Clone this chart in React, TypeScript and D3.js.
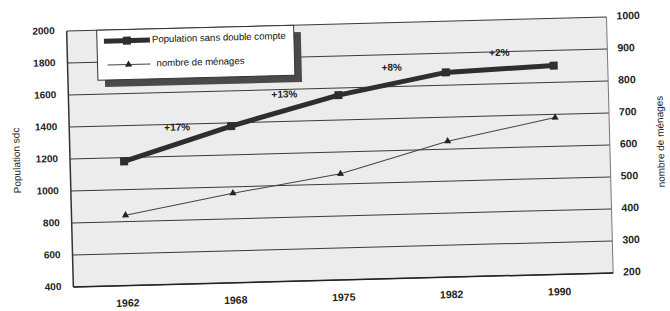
import * as d3 from "d3";

const years = ["1962", "1968", "1975", "1982", "1990"];
const population = [1177, 1380, 1556, 1680, 1705];
const menages = [420, 480, 532, 625, 690];
const growth = ["+17%", "+13%", "+8%", "+2%"];
const leftTicks = [400, 600, 800, 1000, 1200, 1400, 1600, 1800, 2000];
const rightTicks = [200, 300, 400, 500, 600, 700, 800, 900, 1000];

const width = 670;
const height = 311;
const margin = { top: 24, right: 60, bottom: 31, left: 70 };
const innerWidth = width - margin.left - margin.right;
const innerHeight = height - margin.top - margin.bottom;
const font = "'Liberation Sans', Arial, sans-serif";

const App = () => {
  const xScale = d3.scaleBand().domain(years).range([0, innerWidth]);
  const xc = (d: string) => (xScale(d) ?? 0) + xScale.bandwidth() / 2;
  const yLeft = d3.scaleLinear().domain([400, 2000]).range([innerHeight, 0]);
  const yRight = d3.scaleLinear().domain([200, 1000]).range([innerHeight, 0]);

  const popLine = d3
    .line<number>()
    .x((_, i) => xc(years[i]))
    .y((d) => yLeft(d));
  const menLine = d3
    .line<number>()
    .x((_, i) => xc(years[i]))
    .y((d) => yRight(d));

  const tri = d3.symbol().type(d3.symbolTriangle).size(22)();

  return (
    <svg
      width={width}
      height={height}
      style={{ position: "absolute", left: 0, top: 0, background: "#fff" }}
      fontFamily={font}
    >
      <g transform="rotate(-1.5 340 155)">
        <g transform={`translate(${margin.left},${margin.top})`}>
          <rect width={innerWidth} height={innerHeight} fill="#ececec" />
          {leftTicks.map((t) => (
            <g key={t}>
              <line
                x1={0}
                x2={innerWidth}
                y1={yLeft(t)}
                y2={yLeft(t)}
                stroke="#3a3a3a"
                strokeWidth={1}
              />
              <text
                x={-12}
                y={yLeft(t)}
                textAnchor="end"
                dominantBaseline="middle"
                fontSize={10}
                fontWeight="bold"
                fill="#222"
              >
                {t}
              </text>
            </g>
          ))}
          {rightTicks.map((t) => (
            <text
              key={t}
              x={innerWidth + 10}
              y={yRight(t)}
              dominantBaseline="middle"
              fontSize={10.5}
              fontWeight="bold"
              fill="#222"
            >
              {t}
            </text>
          ))}
          <line x1={0} x2={0} y1={0} y2={innerHeight} stroke="#333" strokeWidth={1.5} />
          <line
            x1={innerWidth}
            x2={innerWidth}
            y1={0}
            y2={innerHeight}
            stroke="#777"
            strokeWidth={1}
          />
          <line
            x1={0}
            x2={innerWidth}
            y1={innerHeight}
            y2={innerHeight}
            stroke="#222"
            strokeWidth={1.5}
          />
          {years.map((yr) => (
            <text
              key={yr}
              x={xc(yr)}
              y={innerHeight + 21}
              textAnchor="middle"
              fontSize={10.5}
              fontWeight="bold"
              fill="#222"
            >
              {yr}
            </text>
          ))}
          <text
            transform={`translate(-50,${innerHeight / 2}) rotate(-90)`}
            textAnchor="middle"
            fontSize={10}
            fill="#222"
          >
            Population sdc
          </text>
          <text
            transform={`translate(${innerWidth + 54},${innerHeight / 2 - 2}) rotate(-90)`}
            textAnchor="middle"
            fontSize={10}
            fill="#222"
          >
            nombre de ménages
          </text>

          {/* households */}
          <path d={menLine(menages) ?? ""} fill="none" stroke="#444" strokeWidth={1} />
          {menages.map((d, i) => (
            <path
              key={i}
              d={tri ?? ""}
              transform={`translate(${xc(years[i])},${yRight(d)})`}
              fill="#222"
            />
          ))}

          {/* population */}
          <path
            d={popLine(population) ?? ""}
            fill="none"
            stroke="#2e2e2e"
            strokeWidth={5}
          />
          {population.map((d, i) => (
            <rect
              key={i}
              x={xc(years[i]) - 4}
              y={yLeft(d) - 4}
              width={8}
              height={8}
              fill="#2e2e2e"
            />
          ))}

          {growth.map((g, i) => {
            const mx = (xc(years[i]) + xc(years[i + 1])) / 2;
            const my = yLeft((population[i] + population[i + 1]) / 2);
            return (
              <text
                key={g}
                x={mx}
                y={my - 13}
                textAnchor="middle"
                fontSize={10}
                fontWeight="bold"
                fill="#222"
              >
                {g}
              </text>
            );
          })}

          {/* legend */}
          <g transform="translate(30,0)">
            <rect x={7} y={7} width={197} height={50} fill="#4a4a4a" />
            <rect width={197} height={50} fill="#fff" stroke="#333" strokeWidth={1} />
            <line x1={7} x2={53} y1={11} y2={11} stroke="#2e2e2e" strokeWidth={5} />
            <rect x={26} y={7} width={8} height={8} fill="#2e2e2e" />
            <text x={55} y={11} dominantBaseline="middle" fontSize={9.6} fill="#111">
              Population sans double compte
            </text>
            <line x1={10} x2={53} y1={35} y2={35} stroke="#444" strokeWidth={1} />
            <path d={tri ?? ""} transform="translate(31,35)" fill="#222" />
            <text x={59} y={35} dominantBaseline="middle" fontSize={9.6} fill="#111">
              nombre de ménages
            </text>
          </g>
        </g>
      </g>
    </svg>
  );
};

export default App;
